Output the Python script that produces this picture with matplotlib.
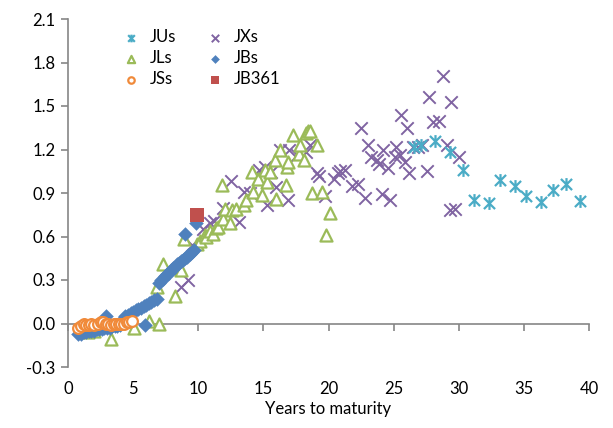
import matplotlib
matplotlib.use("Agg")
import matplotlib.pyplot as plt
from matplotlib.path import Path

plt.rcParams['font.family'] = ['Lato', 'DejaVu Sans']

# ---- data ----
jus_x = [26.6, 27.1, 28.2, 29.3, 30.3, 31.2, 32.3, 33.2, 34.3, 35.2, 36.3, 37.2, 38.2, 39.3]
jus_y = [1.22, 1.23, 1.26, 1.18, 1.06, 0.855, 0.83, 0.99, 0.95, 0.88, 0.84, 0.92, 0.965, 0.845]

jxs_x = [8.7, 9.2, 9.5, 10.4, 10.9, 11.2, 11.9, 12.5, 13.1, 13.5, 14.0, 14.7, 15.1, 15.25, 15.6,
         16.0, 16.3, 16.9, 17.0, 17.6, 18.3, 18.6, 19.1, 19.3, 19.7, 20.4, 20.7, 20.9, 21.3,
         21.8, 22.3, 22.5, 22.8, 23.0, 23.3, 23.7, 23.9, 24.1, 24.2, 24.6, 24.7, 25.1, 25.2,
         25.5, 25.6, 25.9, 26.0, 26.2, 26.5, 26.9, 27.2, 27.6, 27.7, 28.0, 28.5, 28.8, 29.1,
         29.3, 29.4, 29.7, 30.0]
jxs_y = [0.25, 0.30, 0.54, 0.65, 0.69, 0.71, 0.80, 0.98, 0.70, 0.91, 0.90, 1.06, 1.08, 0.82, 1.045,
         0.94, 1.195, 0.855, 1.195, 1.16, 1.18, 1.23, 1.035, 1.02, 0.88, 1.0, 1.035, 1.05, 1.06,
         0.95, 0.965, 1.35, 0.865, 1.23, 1.15, 1.13, 1.10, 0.895, 1.195, 1.07, 0.855, 1.15, 1.22,
         1.16, 1.44, 1.115, 1.35, 1.04, 1.22, 1.22, 1.23, 1.05, 1.56, 1.39, 1.40, 1.71, 1.23,
         0.785, 1.53, 0.79, 1.145]

jls_x = [1.5, 2.0, 3.3, 5.1, 6.2, 7.0, 6.8, 7.3, 8.2, 8.7, 8.9, 9.9, 10.1, 10.5, 10.6, 10.9,
         11.15, 11.4, 11.5, 11.9, 12.05, 12.4, 12.6, 12.9, 11.8, 13.5, 13.7, 14.1, 14.2, 14.6,
         14.9, 15.1, 15.25, 15.5, 15.9, 16.0, 16.3, 16.7, 16.8, 16.9, 17.3, 17.7, 17.8, 18.1,
         18.3, 18.45, 18.6, 18.7, 19.1, 19.5, 20.1, 19.8]
jls_y = [-0.06, -0.05, -0.11, -0.03, 0.02, 0.0, 0.25, 0.41, 0.19, 0.37, 0.58, 0.55, 0.57, 0.61,
         0.60, 0.64, 0.62, 0.66, 0.665, 0.72, 0.79, 0.69, 0.78, 0.79, 0.954, 0.815, 0.85, 1.045,
         0.907, 1.0, 0.885, 1.06, 0.977, 1.045, 1.125, 0.86, 1.195, 0.954, 1.08, 1.115, 1.30,
         1.17, 1.23, 1.13, 1.315, 1.33, 1.33, 0.90, 1.23, 0.907, 0.76, 0.61]

jbs_x = [0.8, 1.0, 1.2, 1.4, 1.6, 1.8, 2.0, 2.2, 2.4, 2.6, 2.8, 2.9, 3.0, 3.2, 3.4, 3.6, 3.8,
         4.0, 4.2, 4.4, 4.6, 4.8, 5.0, 5.2, 5.4, 5.6, 5.8, 6.0, 6.2, 6.4, 6.6, 6.8, 5.9,
         7.0, 7.15, 7.3, 7.45, 7.6, 7.75, 7.9, 8.05, 8.2, 8.35, 8.5, 8.65, 8.8, 8.95, 9.1,
         9.25, 9.4, 9.55, 9.7, 9.0, 9.8]
jbs_y = [-0.07, -0.07, -0.06, -0.06, -0.05, -0.05, -0.05, -0.04, -0.04, -0.04, -0.03, 0.05,
         -0.03, -0.03, -0.02, -0.02, -0.02, -0.01, 0.03, 0.05, 0.06, 0.07, 0.08, 0.09, 0.10,
         0.11, 0.12, 0.13, 0.14, 0.15, 0.16, 0.17, -0.01,
         0.28, 0.30, 0.31, 0.33, 0.34, 0.35, 0.37, 0.38, 0.39, 0.41, 0.42, 0.43, 0.44, 0.45,
         0.46, 0.47, 0.48, 0.49, 0.51, 0.62, 0.69]

jss_x = [0.8, 1.0, 1.2, 1.4, 1.6, 1.8, 2.0, 2.3, 2.5, 2.7, 2.9, 3.1, 3.3, 3.5, 3.7, 3.9, 4.1,
         4.3, 4.5, 4.7, 4.9]
jss_y = [-0.03, -0.02, 0.0, -0.01, -0.01, 0.0, -0.01, 0.0, 0.01, 0.01, 0.0, 0.0, -0.01, 0.0,
         0.0, 0.0, 0.0, 0.0, 0.01, 0.01, 0.02]

jb361_x = [9.9]
jb361_y = [0.75]

x_ticks = [0, 5, 10, 15, 20, 25, 30, 35, 40]
y_ticks = [-0.3, 0.0, 0.3, 0.6, 0.9, 1.2, 1.5, 1.8, 2.1]
x_label = "Years to maturity"

# ---- style ----
star = Path([(-1, -1), (1, 1), (-1, 1), (1, -1), (0, -1.15), (0, 1.15)],
            [Path.MOVETO, Path.LINETO, Path.MOVETO, Path.LINETO, Path.MOVETO, Path.LINETO])

fig = plt.figure(figsize=(6.13, 4.28), dpi=100)
ax = fig.add_axes([68 / 613, 61 / 428, 521 / 613, 348 / 428])

gray = '#868686'

h_jx = ax.scatter(jxs_x, jxs_y, marker='x', s=80, color='#8064A2', linewidths=1.4,
                  label='JXs', zorder=3)
h_ju = ax.scatter(jus_x, jus_y, marker=star, s=85, color='#4BACC6', linewidths=1.6,
                  label='JUs', zorder=4)
h_jl = ax.scatter(jls_x, jls_y, marker='^', s=75, facecolors='white', edgecolors='#9BBB59',
                  linewidths=1.6, label='JLs', zorder=4)
h_jb = ax.scatter(jbs_x, jbs_y, marker='D', s=55, color='#4F81BD', linewidths=0,
                  label='JBs', zorder=5)
h_js = ax.scatter(jss_x, jss_y, marker='o', s=60, facecolors='white', edgecolors='#F08A3A',
                  linewidths=1.6, label='JSs', zorder=6)
h_361 = ax.scatter(jb361_x, jb361_y, marker='s', s=115, color='#C0504D', linewidths=0,
                   label='JB361', zorder=7)

ax.set_xlim(0, 40)
ax.set_ylim(-0.3, 2.1)

# spines
for s in ['top', 'right']:
    ax.spines[s].set_visible(False)
ax.spines['left'].set_color(gray)
ax.spines['left'].set_linewidth(1.2)
ax.spines['bottom'].set_position(('data', 0))
ax.spines['bottom'].set_color(gray)
ax.spines['bottom'].set_linewidth(1.2)

ax.set_yticks(y_ticks)
ax.set_yticklabels([f"{v:.1f}" for v in y_ticks])
ax.set_xticks(x_ticks)
ax.tick_params(axis='x', which='both', labelbottom=False, direction='out', length=5,
               color=gray, width=1.2)
ax.tick_params(axis='y', direction='out', length=5, color=gray, width=1.2,
               labelsize=12, pad=4)

sec = ax.secondary_xaxis('bottom')
sec.spines['bottom'].set_visible(False)
sec.set_xticks(x_ticks)
sec.set_xticklabels([str(v) for v in x_ticks])
sec.tick_params(axis='x', length=0, labelsize=12, pad=10)
sec.set_xlabel(x_label, fontsize=12, labelpad=3)

ax.legend(handles=[h_ju, h_jl, h_js, h_jx, h_jb, h_361], ncol=2, frameon=False,
          loc='upper left', bbox_to_anchor=(0.07, 1.0), fontsize=12,
          handletextpad=0.15, columnspacing=1.3, labelspacing=0.3,
          borderaxespad=0.2, scatterpoints=1, markerscale=0.6)

fig.savefig('out.png', dpi=100)
